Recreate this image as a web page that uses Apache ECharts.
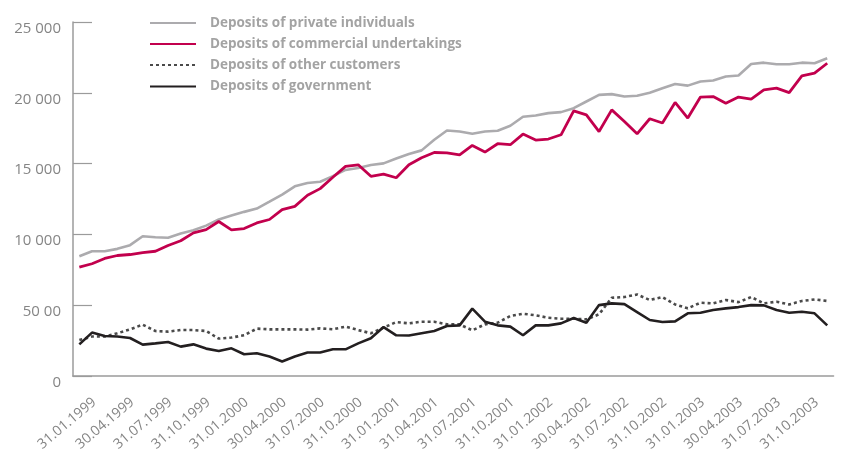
<style>
  body,
  html {
    overflow: hidden;
    width: 100%;
    height: 100%;
    margin: 0;
    padding: 0;
    background: #fff;
  }
  .chart-wrapper {
    position: relative;
    width: 843px;
    height: 457px;
  }
</style>

<div id="chart-wrapper" class="chart-wrapper"></div>

<script src="https://cdn.jsdelivr.net/npm/echarts@6/dist/echarts.min.js"></script>

<script>
  // month-end dates, one per point (the source has "31.04.2001")
  const categories = [
    "31.01.1999", "28.02.1999", "31.03.1999", "30.04.1999", "31.05.1999", "30.06.1999",
    "31.07.1999", "31.08.1999", "30.09.1999", "31.10.1999", "30.11.1999", "31.12.1999",
    "31.01.2000", "29.02.2000", "31.03.2000", "30.04.2000", "31.05.2000", "30.06.2000",
    "31.07.2000", "31.08.2000", "30.09.2000", "31.10.2000", "30.11.2000", "31.12.2000",
    "31.01.2001", "28.02.2001", "31.03.2001", "31.04.2001", "31.05.2001", "30.06.2001",
    "31.07.2001", "31.08.2001", "30.09.2001", "31.10.2001", "30.11.2001", "31.12.2001",
    "31.01.2002", "28.02.2002", "31.03.2002", "30.04.2002", "31.05.2002", "30.06.2002",
    "31.07.2002", "31.08.2002", "30.09.2002", "31.10.2002", "30.11.2002", "31.12.2002",
    "31.01.2003", "28.02.2003", "31.03.2003", "30.04.2003", "31.05.2003", "30.06.2003",
    "31.07.2003", "31.08.2003", "30.09.2003", "31.10.2003", "30.11.2003", "31.12.2003",
  ];

  const yTickLabels = ["0", "50 00", "10 000", "15 000", "20 000", "25 000"];

  const privateIndividuals = [
    8470, 8820, 8820, 8990, 9250, 9880, 9810, 9770, 10070, 10300, 10630, 11060,
    11340, 11600, 11830, 12320, 12820, 13400, 13640, 13730, 14120, 14560, 14700, 14910,
    15020, 15370, 15690, 15940, 16690, 17340, 17270, 17110, 17270, 17320, 17680, 18310,
    18400, 18570, 18640, 18920, 19390, 19860, 19910, 19740, 19790, 20010, 20330, 20630,
    20510, 20800, 20870, 21150, 21220, 22040, 22130, 22020, 22020, 22130, 22090, 22440,
  ];

  const commercialUndertakings = [
    7700, 7940, 8310, 8520, 8590, 8730, 8820, 9230, 9560, 10120, 10350, 10920,
    10330, 10420, 10820, 11060, 11760, 11990, 12770, 13240, 14040, 14810, 14920, 14110,
    14270, 14010, 14930, 15420, 15790, 15770, 15630, 16290, 15820, 16410, 16340, 17090,
    16670, 16740, 17040, 18730, 18450, 17270, 18800, 17980, 17110, 18170, 17870, 19320,
    18220, 19700, 19740, 19270, 19700, 19560, 20210, 20330, 20020, 21200, 21390, 22090,
  ];

  const otherCustomers = [
    2560, 2800, 2800, 3030, 3310, 3640, 3190, 3150, 3260, 3260, 3190, 2660,
    2730, 2890, 3360, 3310, 3310, 3310, 3290, 3380, 3310, 3500, 3260, 3030,
    3430, 3820, 3730, 3850, 3850, 3660, 3660, 3240, 3660, 3780, 4250, 4410,
    4300, 4130, 4060, 4060, 4010, 4370, 5540, 5590, 5770, 5380, 5590, 5070,
    4790, 5190, 5140, 5380, 5230, 5590, 5140, 5260, 5070, 5310, 5420, 5310,
  ];

  const government = [
    2250, 3080, 2840, 2800, 2700, 2230, 2320, 2420, 2090, 2250, 1950, 1780,
    1970, 1550, 1620, 1390, 1040, 1390, 1670, 1670, 1900, 1900, 2320, 2680,
    3470, 2890, 2870, 3030, 3190, 3540, 3590, 4770, 3850, 3590, 3500, 2890,
    3590, 3590, 3730, 4110, 3780, 5020, 5140, 5090, 4530, 3970, 3830, 3870,
    4440, 4480, 4670, 4790, 4880, 5020, 5000, 4670, 4480, 4550, 4440, 3590,
  ];

  const seriesNames = [
    "Deposits of private individuals",
    "Deposits of commercial undertakings",
    "Deposits of other customers",
    "Deposits of government",
  ];

  const axisGrey = "#9b9b9b";
  const labelGrey = "#858585";
  const font = "'Open Sans', 'Noto Sans', sans-serif";

  const chartDom = document.getElementById("chart-wrapper");
  const chart = echarts.init(chartDom, null, { renderer: "canvas" });

  const makeLine = (name, data, color, width, type) => ({
    type: "line",
    name: name,
    data: data,
    symbol: "none",
    animation: false,
    lineStyle: { color: color, width: width, type: type || "solid" },
    itemStyle: { color: color },
  });

  // one legend block per row so the row spacing is exact
  const legendTops = [10.5, 31.5, 52.5, 74];
  const legends = seriesNames.map((name, i) => ({
    orient: "vertical",
    left: 149,
    top: legendTops[i],
    padding: 0,
    itemWidth: 46,
    itemHeight: 14,
    itemStyle: { opacity: 0 },
    selectedMode: false,
    textStyle: {
      fontFamily: font,
      fontWeight: "bold",
      fontSize: 13.5,
      lineHeight: 14,
      color: "#a3a3a3",
      padding: [0, 0, 0, 9],
    },
    data: [name],
  }));

  const option = {
    backgroundColor: "#fff",
    animation: false,
    grid: { left: 73, right: 7, top: 22, bottom: 80.5 },
    legend: legends,
    xAxis: {
      type: "category",
      data: categories,
      boundaryGap: true,
      axisLine: { lineStyle: { color: axisGrey, width: 1.5 } },
      axisTick: {
        inside: true,
        length: 7,
        interval: 0,
        lineStyle: { color: axisGrey, width: 1.2 },
      },
      axisLabel: {
        // every category gets a slot, only each third one is written
        interval: 0,
        formatter: (v, i) => (i % 3 === 0 ? v : ""),
        hideOverlap: false,
        rotate: 40,
        margin: -1,
        align: "right",
        verticalAlign: "top",
        padding: [21, 4.7, 0, 0],
        lineHeight: 16,
        fontFamily: font,
        fontSize: 14,
        color: labelGrey,
      },
      splitLine: { show: false },
    },
    yAxis: {
      type: "value",
      min: 0,
      max: 25000,
      interval: 5000,
      axisLine: { show: true, lineStyle: { color: axisGrey, width: 1.5 } },
      axisTick: {
        show: true,
        inside: true,
        length: 19,
        lineStyle: { color: axisGrey, width: 1.2 },
      },
      axisLabel: {
        margin: 12,
        fontFamily: font,
        fontSize: 15,
        color: labelGrey,
        verticalAlign: "top",
        lineHeight: 13,
        formatter: (v) => yTickLabels[Math.round(v / 5000)],
      },
      splitLine: { show: false },
    },
    series: [
      makeLine(seriesNames[0], privateIndividuals, "#acabae", 2.6),
      makeLine(seriesNames[1], commercialUndertakings, "#c2004d", 2.8),
      makeLine(seriesNames[2], otherCustomers, "#4a4a4a", 2.6, [3, 3]),
      makeLine(seriesNames[3], government, "#231f20", 2.6),
    ],
  };

  chart.setOption(option);
</script>
